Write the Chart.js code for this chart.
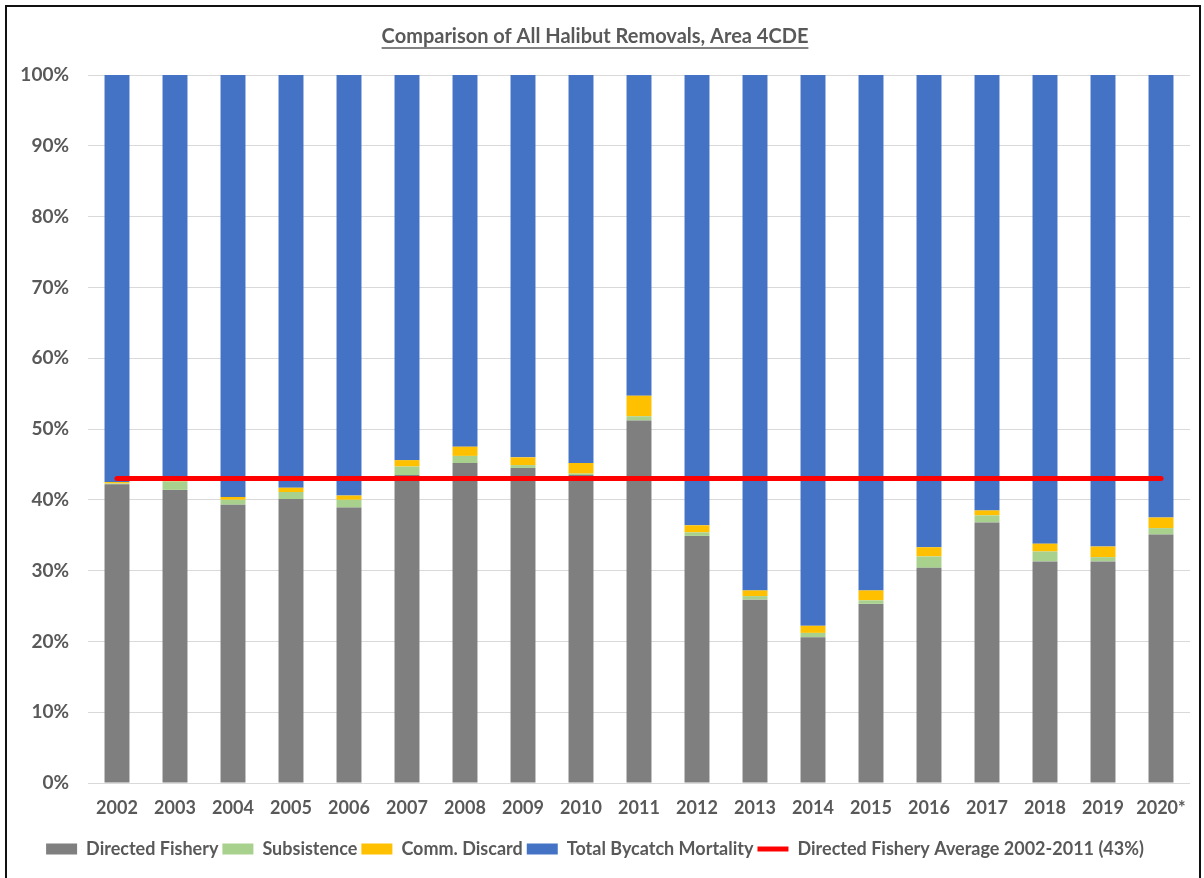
<!DOCTYPE html>
<html>
<head>
<meta charset="utf-8">
<script src="https://cdn.jsdelivr.net/npm/chart.js@4"></script>
<style>
  html, body { margin: 0; padding: 0; background: #fff; }
  #wrap { position: relative; width: 1204px; height: 878px; overflow: hidden; }
  #frame { position: absolute; left: 5px; top: 5px; width: 1192px; height: 900px;
           border: 2px solid #111; border-bottom: none; pointer-events: none; }
</style>
</head>
<body>
<div id="wrap">
  <canvas id="c" width="1204" height="878"></canvas>
  <div id="frame"></div>
</div>
<script>
// Share of all halibut removals, Area 4CDE (percent of total)
const years = ["2002", "2003", "2004", "2005", "2006", "2007", "2008", "2009", "2010", "2011",
  "2012", "2013", "2014", "2015", "2016", "2017", "2018", "2019", "2020*"];
const directed = [42.2, 41.4, 39.3, 40.1, 38.9, 43.5, 45.2, 44.5, 43.5, 51.2,
  34.9, 25.9, 20.6, 25.3, 30.4, 36.8, 31.3, 31.3, 35.1];
const subsistence = [0.1, 1.2, 0.7, 1.0, 1.1, 1.2, 1.0, 0.4, 0.2, 0.6,
  0.5, 0.5, 0.6, 0.5, 1.6, 1.0, 1.4, 0.6, 0.9];
const discard = [0.2, 0.1, 0.4, 0.6, 0.6, 0.9, 1.3, 1.1, 1.5, 2.9,
  1.0, 0.8, 1.0, 1.4, 1.3, 0.7, 1.1, 1.5, 1.5];
const bycatch = [57.5, 57.3, 59.6, 58.3, 59.4, 54.4, 52.5, 54.0, 54.8, 45.3,
  63.6, 72.8, 77.8, 72.8, 66.7, 61.5, 66.2, 66.6, 62.5];
const directedAvg = [43, 43, 43, 43, 43, 43, 43, 43, 43, 43,
  43, 43, 43, 43, 43, 43, 43, 43, 43];

const TXT = "#595959";
const FONT = "Lato, 'Open Sans', sans-serif";

// Excel-style underlined title
const underlineTitle = {
  id: "underlineTitle",
  afterDraw(chart) {
    const tb = chart.titleBlock;
    if (!tb) return;
    const ctx = chart.ctx;
    const f = tb.options.font;
    ctx.save();
    ctx.font = `bold ${f.size}px ${FONT}`;
    const w = ctx.measureText(tb.options.text).width;
    const cx = (tb.left + tb.right) / 2;
    const y = tb.top + tb.options.padding.top + f.size * 1.1 + 1;
    ctx.strokeStyle = TXT;
    ctx.lineWidth = 1.5;
    ctx.beginPath();
    ctx.moveTo(cx - w / 2, y);
    ctx.lineTo(cx + w / 2, y);
    ctx.stroke();
    ctx.restore();
  },
};

const bar = (label, data, color) => ({
  type: "bar", label, data, backgroundColor: color, borderWidth: 0,
  stack: "s", order: 1, pointStyle: "rect",
  barPercentage: 0.43, categoryPercentage: 1,
});

new Chart(document.getElementById("c"), {
  data: {
    labels: years,
    datasets: [
      bar("Directed Fishery", directed, "#7f7f7f"),
      bar("Subsistence", subsistence, "#a9d18e"),
      bar("Comm. Discard", discard, "#ffc000"),
      bar("Total Bycatch Mortality", bycatch, "#4472c4"),
      {
        type: "line", label: "Directed Fishery Average 2002-2011 (43%)", data: directedAvg,
        borderColor: "#ff0000", backgroundColor: "#ff0000", borderWidth: 5,
        borderCapStyle: "round", pointRadius: 0, pointStyle: "line",
        stack: "avg", order: 0,
      },
    ],
  },
  options: {
    responsive: false,
    animation: false,
    layout: { padding: { left: 0, right: 14, top: 0, bottom: 10 } },
    scales: {
      x: {
        stacked: true,
        grid: { display: false, drawTicks: false },
        border: { display: false },
        ticks: { color: TXT, font: { family: FONT, size: 18, weight: "bold" }, padding: 14 },
        afterFit: (s) => { s.height = 53; },
      },
      y: {
        stacked: true, min: 0, max: 100,
        grid: { color: "#d9d9d9", drawTicks: false },
        border: { display: false },
        ticks: {
          stepSize: 10, padding: 19, color: TXT,
          font: { family: FONT, size: 19, weight: "bold" },
          callback: (v) => v + "%",
        },
        afterFit: (s) => { s.width = 88; },
      },
    },
    plugins: {
      title: {
        display: true, text: "Comparison of All Halibut Removals, Area 4CDE",
        color: TXT, font: { family: FONT, size: 20, weight: "bold" },
        padding: { top: 25, bottom: 26 },
      },
      legend: {
        position: "bottom",
        labels: {
          usePointStyle: true, pointStyleWidth: 31, boxHeight: 11,
          padding: 4, color: TXT,
          font: { family: FONT, size: 18, weight: "bold" },
          sort: (a, b) => a.datasetIndex - b.datasetIndex,
        },
      },
      tooltip: { enabled: false },
    },
  },
  plugins: [underlineTitle],
});
</script>
</body>
</html>
